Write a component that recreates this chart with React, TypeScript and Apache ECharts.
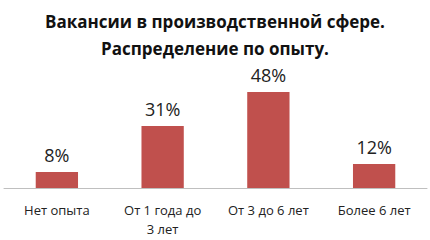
import React, { useEffect, useRef } from "react";
import * as echarts from "echarts";

const titleLines = ["Вакансии в производственной сфере.", "Распределение по опыту."];
const categories = ["Нет опыта", "От 1 года до\n3 лет", "От 3 до 6 лет", "Более 6 лет"];
const values = [8, 31, 48, 12];

export default function App() {
  const ref = useRef<HTMLDivElement>(null);
  useEffect(() => {
    const chart = echarts.init(ref.current!, null, { renderer: "svg" });
    chart.setOption({
      animation: false,
      backgroundColor: "#ffffff",
      title: {
        text: titleLines.join("\n"),
        left: "center",
        top: 3,
        textStyle: {
          fontFamily: "Open Sans",
          fontWeight: "bold",
          fontSize: 17,
          lineHeight: 27,
          color: "#111",
        },
      },
      grid: { left: 4, right: 3, top: 88, bottom: 52, containLabel: false },
      xAxis: {
        type: "category",
        data: categories,
        axisLine: { lineStyle: { color: "#bfbfbf", width: 1 } },
        axisTick: { show: false },
        axisLabel: {
          interval: 0,
          margin: 12,
          fontFamily: "Open Sans",
          fontSize: 13,
          lineHeight: 19,
          color: "#222",
        },
      },
      yAxis: {
        type: "value",
        min: 0,
        max: 50,
        show: false,
        splitLine: { show: false },
      },
      series: [
        {
          type: "bar",
          data: values,
          barWidth: "40%",
          itemStyle: { color: "#c0504d" },
          label: {
            show: true,
            position: "top",
            distance: 8,
            formatter: "{c}%",
            fontFamily: "Open Sans",
            fontSize: 18,
            color: "#222",
          },
        },
      ],
    });
    return () => chart.dispose();
  }, []);
  return <div ref={ref} style={{ width: 430, height: 240, position: "absolute", left: 0, top: 0 }} />;
}
